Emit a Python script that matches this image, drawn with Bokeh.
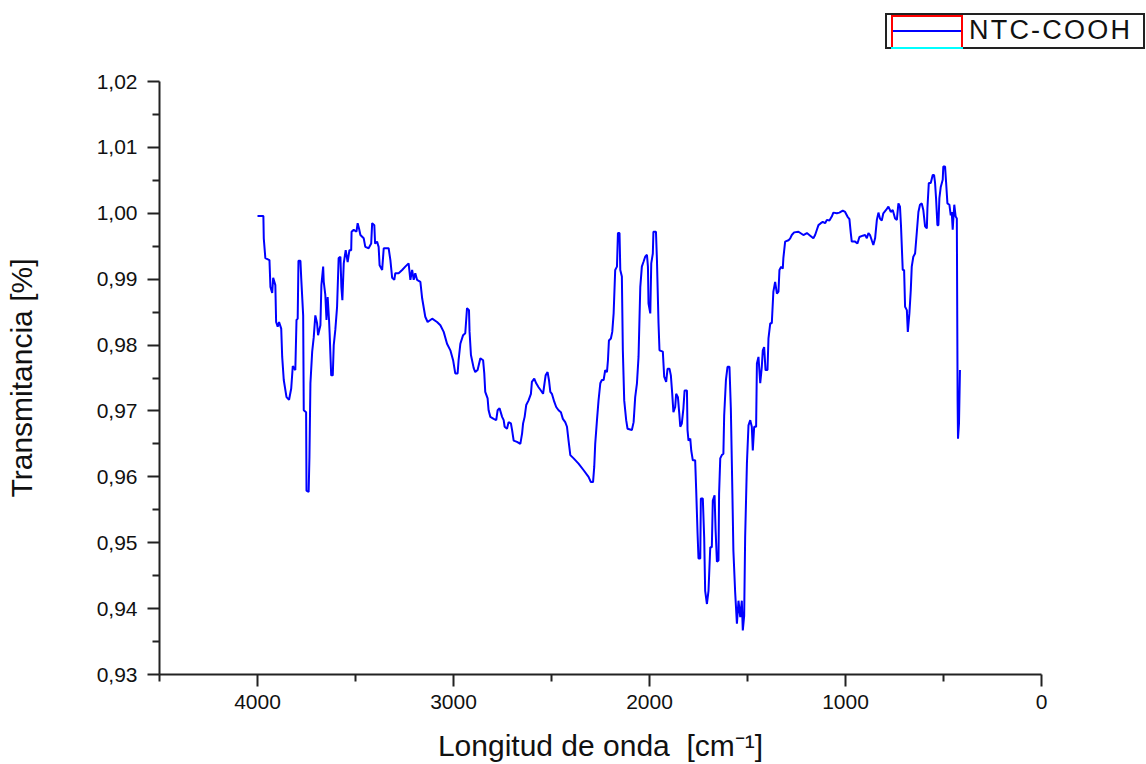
from bokeh.plotting import figure
from bokeh.layouts import column
from bokeh.models import Range1d, FixedTicker, CustomJSTickFormatter, Div
from bokeh.embed import file_html
from bokeh.resources import INLINE

series_name = "NTC-COOH"

wavenumber = [
    4000, 3970, 3968, 3960, 3939, 3934, 3925, 3920, 3909, 3905, 3897, 3890, 3879, 3874, 3866,
    3852, 3839, 3828, 3820, 3807, 3801, 3795, 3791, 3781, 3777, 3767, 3764, 3752, 3750, 3739,
    3735, 3730, 3721, 3713, 3705, 3696, 3691, 3679, 3674, 3665, 3662, 3654, 3648, 3642, 3635,
    3632, 3624, 3616, 3611, 3603, 3594, 3586, 3577, 3572, 3567, 3560, 3550, 3540, 3531, 3522,
    3520, 3509, 3495, 3489, 3482, 3475, 3458, 3450, 3433, 3420, 3415, 3404, 3400, 3390, 3382,
    3377, 3364, 3356, 3331, 3322, 3313, 3302, 3297, 3280, 3262, 3246, 3229, 3220, 3211, 3203,
    3195, 3186, 3169, 3160, 3144, 3132, 3109, 3084, 3067, 3050, 3033, 3016, 3002, 2991, 2979,
    2974, 2965, 2951, 2940, 2931, 2921, 2918, 2911, 2897, 2889, 2877, 2863, 2849, 2843, 2838,
    2826, 2821, 2812, 2795, 2782, 2775, 2765, 2752, 2744, 2739, 2727, 2719, 2707, 2701, 2693,
    2676, 2659, 2650, 2645, 2637, 2629, 2617, 2605, 2600, 2588, 2578, 2566, 2554, 2543, 2537,
    2530, 2520, 2513, 2506, 2498, 2486, 2476, 2464, 2452, 2442, 2430, 2421, 2413, 2404, 2387,
    2362, 2336, 2311, 2299, 2288, 2282, 2277, 2268, 2260, 2251, 2243, 2234, 2226, 2217, 2212,
    2207, 2197, 2190, 2183, 2175, 2166, 2161, 2153, 2149, 2141, 2136, 2129, 2119, 2112, 2090,
    2081, 2073, 2064, 2056, 2047, 2039, 2031, 2022, 2013, 2008, 2005, 1996, 1991, 1983, 1980,
    1967, 1962, 1954, 1949, 1932, 1925, 1915, 1908, 1898, 1891, 1884, 1878, 1869, 1864, 1855,
    1848, 1843, 1835, 1827, 1821, 1809, 1806, 1801, 1792, 1787, 1779, 1767, 1762, 1755, 1750,
    1741, 1738, 1728, 1721, 1716, 1707, 1699, 1690, 1682, 1677, 1668, 1663, 1656, 1648, 1645,
    1639, 1631, 1623, 1619, 1610, 1602, 1592, 1585, 1577, 1572, 1563, 1554, 1546, 1537, 1529,
    1524, 1517, 1512, 1503, 1495, 1486, 1478, 1473, 1466, 1456, 1452, 1444, 1435, 1427, 1422,
    1415, 1408, 1398, 1393, 1384, 1376, 1368, 1359, 1350, 1342, 1337, 1328, 1320, 1317, 1308,
    1291, 1282, 1274, 1262, 1240, 1215, 1197, 1180, 1164, 1155, 1146, 1138, 1126, 1116, 1104,
    1095, 1082, 1070, 1062, 1044, 1031, 1014, 1002, 990, 980, 973, 968, 951, 939, 929,
    912, 900, 891, 883, 875, 866, 858, 849, 840, 832, 824, 815, 807, 793, 781,
    769, 759, 747, 738, 730, 722, 717, 708, 701, 696, 687, 682, 674, 667, 662,
    654, 645, 636, 628, 620, 611, 603, 594, 585, 582, 575, 565, 555, 548, 543,
    538, 531, 526, 521, 514, 504, 501, 492, 487, 480, 470, 463, 458, 453, 450,
    445, 438, 432, 428, 426, 421, 416,
]

transmittance = [
    0.9996, 0.9996, 0.9962, 0.9932, 0.9929, 0.9888, 0.9879, 0.9902, 0.9891, 0.9835, 0.9828, 0.9835, 0.9825, 0.9782, 0.9747,
    0.9721, 0.9717, 0.9734, 0.9768, 0.9762, 0.9838, 0.9840, 0.9928, 0.9928, 0.9902, 0.9845, 0.9701, 0.9698, 0.9579, 0.9577,
    0.9630, 0.9742, 0.9790, 0.9812, 0.9845, 0.9833, 0.9815, 0.9830, 0.9891, 0.9919, 0.9896, 0.9876, 0.9838, 0.9873, 0.9838,
    0.9818, 0.9754, 0.9754, 0.9800, 0.9823, 0.9858, 0.9932, 0.9934, 0.9888, 0.9868, 0.9924, 0.9944, 0.9926, 0.9944, 0.9944,
    0.9972, 0.9975, 0.9972, 0.9985, 0.9977, 0.9967, 0.9962, 0.9949, 0.9947, 0.9954, 0.9985, 0.9982, 0.9954, 0.9957, 0.9949,
    0.9921, 0.9914, 0.9947, 0.9947, 0.9929, 0.9902, 0.9899, 0.9909, 0.9909, 0.9914, 0.9919, 0.9924, 0.9899, 0.9914, 0.9899,
    0.9909, 0.9899, 0.9896, 0.9871, 0.9843, 0.9835, 0.9840, 0.9835, 0.9830, 0.9820, 0.9802, 0.9792, 0.9777, 0.9757, 0.9757,
    0.9777, 0.9802, 0.9815, 0.9818, 0.9856, 0.9853, 0.9820, 0.9785, 0.9765, 0.9759, 0.9762, 0.9780, 0.9777, 0.9757, 0.9729,
    0.9719, 0.9701, 0.9691, 0.9688, 0.9686, 0.9701, 0.9704, 0.9691, 0.9686, 0.9676, 0.9673, 0.9683, 0.9681, 0.9671, 0.9655,
    0.9653, 0.9650, 0.9666, 0.9681, 0.9691, 0.9709, 0.9716, 0.9726, 0.9744, 0.9749, 0.9742, 0.9736, 0.9731, 0.9726, 0.9739,
    0.9754, 0.9759, 0.9747, 0.9729, 0.9726, 0.9714, 0.9706, 0.9701, 0.9698, 0.9688, 0.9683, 0.9676, 0.9655, 0.9633, 0.9628,
    0.9620, 0.9610, 0.9600, 0.9592, 0.9592, 0.9615, 0.9650, 0.9686, 0.9716, 0.9742, 0.9747, 0.9747, 0.9762, 0.9759, 0.9777,
    0.9807, 0.9810, 0.9820, 0.9848, 0.9914, 0.9919, 0.9970, 0.9970, 0.9914, 0.9904, 0.9792, 0.9716, 0.9686, 0.9673, 0.9671,
    0.9683, 0.9721, 0.9742, 0.9782, 0.9888, 0.9919, 0.9926, 0.9934, 0.9937, 0.9919, 0.9863, 0.9848, 0.9924, 0.9939, 0.9972,
    0.9972, 0.9929, 0.9833, 0.9792, 0.9790, 0.9752, 0.9744, 0.9764, 0.9764, 0.9754, 0.9726, 0.9698, 0.9706, 0.9726, 0.9721,
    0.9696, 0.9676, 0.9681, 0.9704, 0.9731, 0.9731, 0.9671, 0.9655, 0.9658, 0.9640, 0.9625, 0.9625, 0.9582, 0.9516, 0.9476,
    0.9476, 0.9567, 0.9567, 0.9508, 0.9427, 0.9407, 0.9427, 0.9493, 0.9493, 0.9564, 0.9572, 0.9521, 0.9471, 0.9473, 0.9574,
    0.9628, 0.9633, 0.9635, 0.9693, 0.9747, 0.9767, 0.9767, 0.9704, 0.9574, 0.9488, 0.9425, 0.9377, 0.9412, 0.9387, 0.9412,
    0.9367, 0.9389, 0.9508, 0.9620, 0.9678, 0.9686, 0.9676, 0.9640, 0.9676, 0.9676, 0.9772, 0.9782, 0.9742, 0.9767, 0.9792,
    0.9797, 0.9762, 0.9762, 0.9810, 0.9833, 0.9833, 0.9881, 0.9896, 0.9878, 0.9881, 0.9914, 0.9919, 0.9916, 0.9932, 0.9957,
    0.9959, 0.9962, 0.9967, 0.9971, 0.9972, 0.9967, 0.9970, 0.9966, 0.9962, 0.9967, 0.9975, 0.9982, 0.9985, 0.9987, 0.9985,
    0.9990, 0.9989, 0.9995, 1.0001, 1.0000, 1.0001, 1.0004, 1.0002, 0.9995, 0.9991, 0.9970, 0.9957, 0.9957, 0.9954, 0.9964,
    0.9966, 0.9967, 0.9962, 0.9970, 0.9967, 0.9959, 0.9952, 0.9962, 0.9990, 1.0001, 0.9992, 0.9989, 1.0000, 1.0005, 1.0010,
    1.0002, 1.0005, 0.9992, 0.9990, 1.0015, 1.0010, 0.9982, 0.9914, 0.9914, 0.9858, 0.9853, 0.9820, 0.9848, 0.9883, 0.9919,
    0.9934, 0.9939, 0.9972, 1.0002, 1.0013, 1.0015, 1.0005, 0.9980, 0.9977, 1.0008, 1.0046, 1.0046, 1.0058, 1.0058, 1.0046,
    1.0023, 0.9982, 0.9982, 1.0023, 1.0040, 1.0051, 1.0071, 1.0071, 1.0048, 1.0015, 1.0013, 0.9997, 1.0002, 0.9975, 0.9990,
    1.0013, 0.9995, 0.9992, 0.9716, 0.9658, 0.9681, 0.9762,
]

x_major_ticks = [4000, 3000, 2000, 1000, 0]
x_minor_ticks = [4500, 3500, 2500, 1500, 500]
y_major_ticks = [0.93, 0.94, 0.95, 0.96, 0.97, 0.98, 0.99, 1.00, 1.01, 1.02]
y_minor_ticks = [0.935, 0.945, 0.955, 0.965, 0.975, 0.985, 0.995, 1.005, 1.015]

FONT = "Liberation Sans"
TXT = "#111111"
LINE_COLOR = "#0000ff"

# ---- legend strip (HTML, above the plot) ----
legend_html = (
    '<div style="position:relative;width:1146px;height:70px;margin:0;padding:0;">'
    '<div style="position:absolute;left:885px;top:13px;width:260px;height:36px;'
    'box-sizing:border-box;border:2px solid #222;background:#fff;"></div>'
    '<div style="position:absolute;left:891px;top:15px;width:72px;height:34px;'
    'box-sizing:border-box;border:2px solid #ff0000;"></div>'
    f'<div style="position:absolute;left:893px;top:30px;width:68px;height:2px;background:{LINE_COLOR};"></div>'
    '<div style="position:absolute;left:891px;top:47px;width:72px;height:2px;background:#00ffff;"></div>'
    f'<div style="position:absolute;left:969px;top:17px;font-family:\'{FONT}\';font-size:27px;'
    f'line-height:26px;letter-spacing:2.2px;color:{TXT};white-space:nowrap;">{series_name}</div>'
    '</div>'
)
legend_div = Div(text=legend_html, width=1146, height=70, margin=0)

# ---- main plot ----
p = figure(width=1146, height=694, output_backend="svg", toolbar_location=None,
           x_range=Range1d(4500, 0), y_range=Range1d(0.93, 1.02),
           min_border_left=159, min_border_right=105, min_border_top=11, min_border_bottom=90,
           background_fill_color="white", border_fill_color="white")
p.outline_line_color = None
p.xgrid.visible = False
p.ygrid.visible = False

p.line(wavenumber, transmittance, line_color=LINE_COLOR, line_width=2)

for ax in (p.xaxis[0], p.yaxis[0]):
    ax.axis_line_color = "#222222"
    ax.axis_line_width = 2
    ax.major_tick_line_color = "#222222"
    ax.minor_tick_line_color = "#222222"
    ax.major_tick_line_width = 2
    ax.minor_tick_line_width = 2
    ax.major_tick_in = 0
    ax.major_tick_out = 12
    ax.minor_tick_in = 0
    ax.minor_tick_out = 7
    ax.major_label_text_font = FONT
    ax.major_label_text_font_size = "21px"
    ax.major_label_text_color = TXT
    ax.axis_label_text_font = FONT
    ax.axis_label_text_font_size = "30px"
    ax.axis_label_text_font_style = "normal"
    ax.axis_label_text_color = TXT

p.xaxis[0].ticker = FixedTicker(ticks=x_major_ticks, minor_ticks=x_minor_ticks)
p.yaxis[0].ticker = FixedTicker(ticks=y_major_ticks, minor_ticks=y_minor_ticks)
p.yaxis[0].formatter = CustomJSTickFormatter(code="return tick.toFixed(2).replace('.', ',');")
p.xaxis[0].major_label_standoff = 8
p.yaxis[0].major_label_standoff = 10
p.xaxis[0].axis_label = "Longitud de onda\u00a0\u00a0[cm\u207b\u00b9]"
p.yaxis[0].axis_label = "Transmitancia [%]"
p.xaxis[0].axis_label_standoff = 17
p.yaxis[0].axis_label_standoff = 56

layout = column(legend_div, p, spacing=0)
open("out.html", "w").write(file_html(layout, INLINE))
